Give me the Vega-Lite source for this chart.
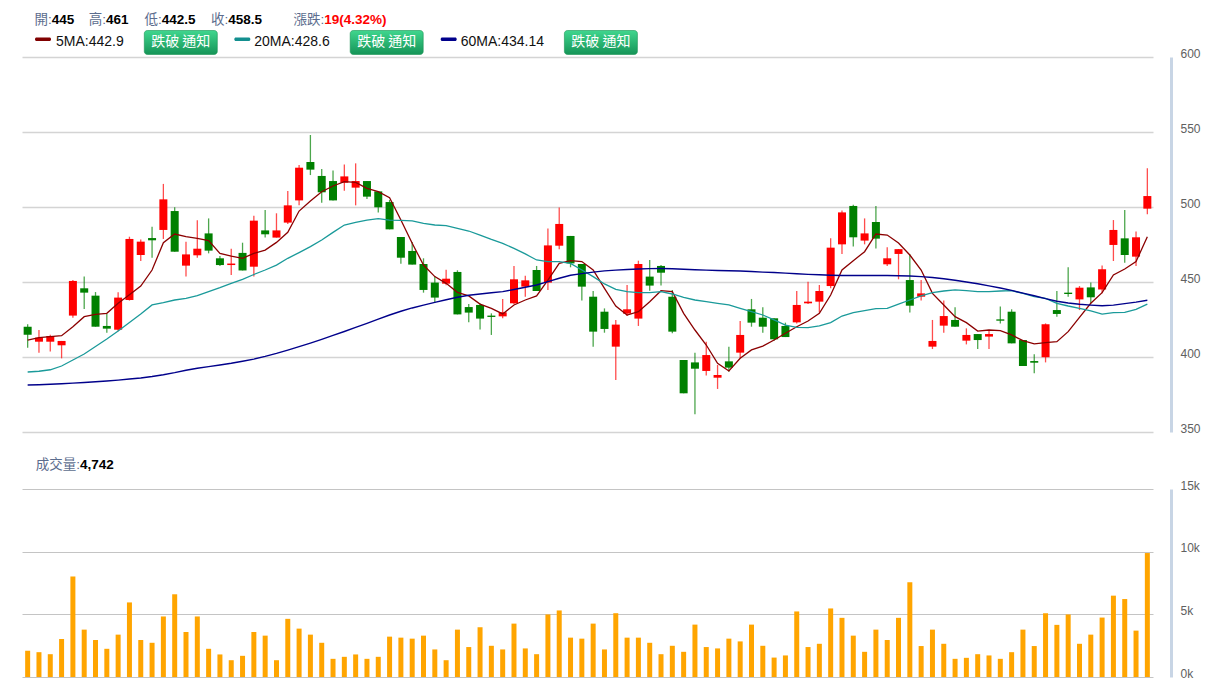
{
"$schema": "https://vega.github.io/schema/vega-lite/v6.json",
"background": "white",
"padding": {"left": 22, "top": 0, "right": 0, "bottom": 0},
"bounds": "flush",
"spacing": 0,
"config": {"view": {"stroke": null}, "font": "Liberation Sans"},
"datasets": {
"k": [
{"i":0,"o":420.2,"h":421.8,"l":406.2,"c":414.9,"v":2090,"m5":411.3,"m20":390.0,"m60":381.3},
{"i":1,"o":410.2,"h":418.0,"l":402.9,"c":412.9,"v":1980,"m5":412.9,"m20":390.5,"m60":381.5},
{"i":2,"o":410.2,"h":414.9,"l":403.6,"c":414.0,"v":1820,"m5":413.6,"m20":391.5,"m60":381.8},
{"i":3,"o":407.8,"h":410.7,"l":399.1,"c":410.7,"v":3030,"m5":414.2,"m20":394.0,"m60":382.2},
{"i":4,"o":427.6,"h":451.3,"l":426.2,"c":450.7,"v":8020,"m5":420.2,"m20":398.0,"m60":382.6},
{"i":5,"o":445.8,"h":453.6,"l":432.0,"c":442.9,"v":3780,"m5":426.9,"m20":402.0,"m60":383.0},
{"i":6,"o":440.9,"h":443.3,"l":420.2,"c":420.2,"v":2950,"m5":428.4,"m20":407.0,"m60":383.5},
{"i":7,"o":420.7,"h":428.7,"l":416.2,"c":418.9,"v":2250,"m5":429.1,"m20":412.0,"m60":384.0},
{"i":8,"o":418.2,"h":443.1,"l":417.1,"c":439.6,"v":3380,"m5":435.8,"m20":417.3,"m60":384.6},
{"i":9,"o":438.0,"h":480.2,"l":437.6,"c":478.7,"v":5950,"m5":441.5,"m20":423.0,"m60":385.3},
{"i":10,"o":468.0,"h":478.4,"l":464.0,"c":476.9,"v":2950,"m5":447.3,"m20":428.7,"m60":386.0},
{"i":11,"o":479.3,"h":486.9,"l":466.2,"c":477.8,"v":2730,"m5":458.0,"m20":434.7,"m60":387.0},
{"i":12,"o":484.7,"h":515.4,"l":478.7,"c":505.1,"v":4830,"m5":476.2,"m20":436.2,"m60":388.2},
{"i":13,"o":497.3,"h":499.8,"l":470.2,"c":470.2,"v":6600,"m5":482.0,"m20":438.0,"m60":389.6},
{"i":14,"o":460.9,"h":476.9,"l":453.6,"c":468.4,"v":3590,"m5":480.2,"m20":439.1,"m60":391.2},
{"i":15,"o":467.8,"h":491.1,"l":466.2,"c":472.2,"v":4830,"m5":479.1,"m20":440.9,"m60":392.5},
{"i":16,"o":482.4,"h":492.4,"l":469.1,"c":470.9,"v":2250,"m5":477.6,"m20":443.6,"m60":393.6},
{"i":17,"o":465.8,"h":467.3,"l":460.7,"c":461.3,"v":1800,"m5":469.1,"m20":446.2,"m60":394.7},
{"i":18,"o":461.3,"h":472.2,"l":454.7,"c":462.3,"v":1340,"m5":467.3,"m20":449.1,"m60":395.8},
{"i":19,"o":469.4,"h":476.2,"l":457.7,"c":457.7,"v":1690,"m5":465.8,"m20":451.8,"m60":397.2},
{"i":20,"o":460.2,"h":494.2,"l":453.6,"c":490.9,"v":3590,"m5":469.1,"m20":455.0,"m60":398.6},
{"i":21,"o":484.4,"h":498.0,"l":479.6,"c":481.8,"v":3300,"m5":471.3,"m20":458.0,"m60":400.4},
{"i":22,"o":479.6,"h":495.8,"l":479.6,"c":484.4,"v":1340,"m5":476.4,"m20":461.3,"m60":402.4},
{"i":23,"o":489.6,"h":510.7,"l":488.7,"c":501.1,"v":4640,"m5":483.1,"m20":465.8,"m60":404.6},
{"i":24,"o":504.4,"h":528.0,"l":501.1,"c":526.2,"v":3860,"m5":497.3,"m20":469.6,"m60":406.9},
{"i":25,"o":530.0,"h":548.0,"l":521.3,"c":524.9,"v":3380,"m5":504.0,"m20":473.6,"m60":409.3},
{"i":26,"o":520.7,"h":525.3,"l":502.9,"c":509.8,"v":2730,"m5":510.2,"m20":478.0,"m60":411.8},
{"i":27,"o":517.3,"h":524.4,"l":504.4,"c":504.4,"v":1450,"m5":514.0,"m20":483.1,"m60":414.4},
{"i":28,"o":516.2,"h":528.4,"l":510.9,"c":520.4,"v":1610,"m5":516.9,"m20":488.0,"m60":417.0},
{"i":29,"o":512.9,"h":529.1,"l":501.1,"c":517.3,"v":1800,"m5":516.4,"m20":489.8,"m60":419.7},
{"i":30,"o":517.3,"h":517.3,"l":505.3,"c":506.9,"v":1450,"m5":512.4,"m20":491.3,"m60":422.4},
{"i":31,"o":510.4,"h":510.4,"l":496.4,"c":499.8,"v":1610,"m5":510.2,"m20":492.2,"m60":425.2},
{"i":32,"o":503.3,"h":504.7,"l":485.1,"c":485.1,"v":3220,"m5":506.2,"m20":491.3,"m60":428.0},
{"i":33,"o":480.0,"h":480.0,"l":462.2,"c":466.2,"v":3140,"m5":491.3,"m20":491.1,"m60":430.5},
{"i":34,"o":470.7,"h":476.7,"l":461.6,"c":461.6,"v":3060,"m5":475.8,"m20":490.7,"m60":432.7},
{"i":35,"o":462.0,"h":465.8,"l":442.9,"c":444.7,"v":3300,"m5":461.3,"m20":489.1,"m60":434.6},
{"i":36,"o":449.6,"h":453.6,"l":436.4,"c":439.6,"v":2200,"m5":453.6,"m20":488.0,"m60":436.4},
{"i":37,"o":448.9,"h":458.2,"l":447.8,"c":452.2,"v":1340,"m5":449.1,"m20":487.6,"m60":438.2},
{"i":38,"o":456.7,"h":457.8,"l":428.4,"c":428.4,"v":3780,"m5":443.1,"m20":485.8,"m60":439.8},
{"i":39,"o":433.3,"h":435.3,"l":423.2,"c":429.6,"v":2390,"m5":440.7,"m20":484.0,"m60":441.2},
{"i":40,"o":434.7,"h":435.8,"l":418.4,"c":425.6,"v":3970,"m5":435.3,"m20":481.3,"m60":442.0},
{"i":41,"o":427.6,"h":429.1,"l":414.7,"c":426.7,"v":2490,"m5":432.4,"m20":478.4,"m60":442.8},
{"i":42,"o":427.1,"h":438.7,"l":425.8,"c":429.8,"v":2200,"m5":428.7,"m20":475.8,"m60":443.6},
{"i":43,"o":435.8,"h":460.7,"l":435.3,"c":451.8,"v":4260,"m5":434.7,"m20":472.4,"m60":445.0},
{"i":44,"o":446.9,"h":454.2,"l":440.2,"c":451.1,"v":2280,"m5":438.0,"m20":468.7,"m60":446.5},
{"i":45,"o":458.0,"h":460.7,"l":444.0,"c":444.0,"v":1820,"m5":440.7,"m20":464.7,"m60":448.0},
{"i":46,"o":449.6,"h":485.6,"l":444.7,"c":474.4,"v":4990,"m5":451.3,"m20":463.6,"m60":450.3},
{"i":47,"o":474.2,"h":499.6,"l":471.8,"c":488.7,"v":5310,"m5":462.4,"m20":463.6,"m60":452.5},
{"i":48,"o":480.7,"h":480.7,"l":459.8,"c":462.4,"v":3140,"m5":464.2,"m20":462.4,"m60":454.5},
{"i":49,"o":462.0,"h":462.0,"l":437.6,"c":446.9,"v":3060,"m5":463.6,"m20":458.0,"m60":455.6},
{"i":50,"o":440.2,"h":444.0,"l":406.9,"c":416.9,"v":4260,"m5":458.0,"m20":453.6,"m60":456.6},
{"i":51,"o":430.2,"h":432.4,"l":416.2,"c":418.7,"v":2200,"m5":445.8,"m20":448.7,"m60":457.4},
{"i":52,"o":406.9,"h":424.7,"l":384.7,"c":421.6,"v":5090,"m5":434.0,"m20":445.1,"m60":457.9},
{"i":53,"o":428.9,"h":448.0,"l":427.3,"c":431.8,"v":3140,"m5":428.0,"m20":443.6,"m60":458.3},
{"i":54,"o":425.6,"h":464.2,"l":420.7,"c":462.0,"v":3140,"m5":430.2,"m20":442.9,"m60":458.7},
{"i":55,"o":453.6,"h":464.7,"l":444.2,"c":447.6,"v":2730,"m5":436.9,"m20":442.9,"m60":458.9},
{"i":56,"o":460.7,"h":461.3,"l":447.6,"c":456.2,"v":1820,"m5":444.2,"m20":443.6,"m60":459.0},
{"i":57,"o":440.2,"h":444.7,"l":415.8,"c":416.9,"v":2490,"m5":443.6,"m20":442.0,"m60":458.8},
{"i":58,"o":398.0,"h":398.0,"l":375.8,"c":375.8,"v":2010,"m5":429.1,"m20":439.7,"m60":458.5},
{"i":59,"o":396.4,"h":402.9,"l":361.8,"c":392.2,"v":4180,"m5":418.0,"m20":438.0,"m60":458.2},
{"i":60,"o":390.7,"h":410.2,"l":387.6,"c":401.3,"v":2390,"m5":408.0,"m20":436.9,"m60":457.9},
{"i":61,"o":386.2,"h":394.7,"l":378.7,"c":388.0,"v":2280,"m5":395.8,"m20":435.8,"m60":457.7},
{"i":62,"o":397.1,"h":406.9,"l":390.2,"c":392.9,"v":3060,"m5":390.7,"m20":434.7,"m60":457.5},
{"i":63,"o":402.9,"h":424.0,"l":399.1,"c":414.7,"v":2840,"m5":399.1,"m20":432.4,"m60":457.3},
{"i":64,"o":431.8,"h":438.7,"l":420.2,"c":422.9,"v":4180,"m5":404.7,"m20":430.2,"m60":457.0},
{"i":65,"o":426.2,"h":433.1,"l":416.2,"c":420.2,"v":2490,"m5":407.3,"m20":428.0,"m60":456.6},
{"i":66,"o":425.8,"h":425.8,"l":410.9,"c":411.8,"v":1550,"m5":411.3,"m20":424.7,"m60":456.3},
{"i":67,"o":420.7,"h":422.9,"l":413.3,"c":413.3,"v":1720,"m5":415.8,"m20":421.3,"m60":455.9},
{"i":68,"o":423.1,"h":444.0,"l":422.4,"c":434.7,"v":5230,"m5":420.2,"m20":419.8,"m60":455.5},
{"i":69,"o":435.8,"h":450.2,"l":435.3,"c":436.9,"v":2390,"m5":424.0,"m20":419.6,"m60":455.1},
{"i":70,"o":436.9,"h":448.0,"l":429.6,"c":444.0,"v":2650,"m5":429.1,"m20":420.7,"m60":454.8},
{"i":71,"o":447.3,"h":479.1,"l":445.8,"c":472.9,"v":5470,"m5":441.3,"m20":422.9,"m60":454.5},
{"i":72,"o":475.1,"h":497.6,"l":468.7,"c":496.4,"v":4720,"m5":458.0,"m20":427.3,"m60":454.3},
{"i":73,"o":500.7,"h":501.5,"l":473.6,"c":479.8,"v":3300,"m5":464.2,"m20":429.6,"m60":454.3},
{"i":74,"o":477.6,"h":492.4,"l":475.1,"c":482.4,"v":2010,"m5":470.2,"m20":430.9,"m60":454.3},
{"i":75,"o":490.0,"h":500.7,"l":472.4,"c":478.9,"v":3780,"m5":482.0,"m20":432.2,"m60":454.3},
{"i":76,"o":461.8,"h":473.1,"l":460.7,"c":465.8,"v":2950,"m5":481.3,"m20":432.4,"m60":454.3},
{"i":77,"o":468.7,"h":472.0,"l":451.8,"c":471.9,"v":4720,"m5":476.0,"m20":435.3,"m60":454.2},
{"i":78,"o":451.3,"h":468.5,"l":429.6,"c":434.2,"v":7560,"m5":468.0,"m20":438.0,"m60":454.0},
{"i":79,"o":440.2,"h":451.3,"l":437.6,"c":442.4,"v":2470,"m5":458.0,"m20":440.7,"m60":453.6},
{"i":80,"o":406.9,"h":424.7,"l":405.3,"c":410.7,"v":3780,"m5":442.4,"m20":442.9,"m60":453.0},
{"i":81,"o":420.9,"h":437.6,"l":416.2,"c":427.3,"v":2650,"m5":434.7,"m20":444.0,"m60":452.2},
{"i":82,"o":424.7,"h":433.1,"l":420.2,"c":420.2,"v":1450,"m5":426.9,"m20":444.7,"m60":451.2},
{"i":83,"o":410.9,"h":419.1,"l":408.4,"c":414.7,"v":1530,"m5":422.9,"m20":444.2,"m60":450.0},
{"i":84,"o":415.3,"h":415.3,"l":405.3,"c":411.3,"v":1820,"m5":417.3,"m20":443.6,"m60":448.8},
{"i":85,"o":413.6,"h":418.0,"l":405.3,"c":415.3,"v":1720,"m5":418.0,"m20":443.6,"m60":447.4},
{"i":86,"o":425.1,"h":433.6,"l":422.4,"c":424.2,"v":1450,"m5":417.6,"m20":444.0,"m60":446.0},
{"i":87,"o":430.2,"h":431.8,"l":409.1,"c":409.1,"v":1980,"m5":414.7,"m20":444.2,"m60":444.4},
{"i":88,"o":411.3,"h":411.3,"l":394.0,"c":394.0,"v":3780,"m5":410.9,"m20":442.4,"m60":442.6},
{"i":89,"o":397.3,"h":401.8,"l":389.1,"c":396.2,"v":2470,"m5":408.7,"m20":440.2,"m60":440.8},
{"i":90,"o":399.8,"h":422.4,"l":396.4,"c":421.8,"v":5090,"m5":409.6,"m20":439.1,"m60":438.9},
{"i":91,"o":431.3,"h":444.0,"l":426.9,"c":428.7,"v":4160,"m5":410.2,"m20":435.8,"m60":437.2},
{"i":92,"o":442.9,"h":459.8,"l":440.2,"c":442.0,"v":4990,"m5":416.9,"m20":434.0,"m60":436.0},
{"i":93,"o":438.4,"h":447.3,"l":431.3,"c":446.2,"v":2650,"m5":426.4,"m20":432.4,"m60":435.2},
{"i":94,"o":446.4,"h":449.6,"l":435.8,"c":439.8,"v":3380,"m5":435.8,"m20":430.7,"m60":434.6},
{"i":95,"o":445.0,"h":461.0,"l":442.5,"c":458.5,"v":4742,"m5":442.9,"m20":428.6,"m60":434.14},
{"i":96,"o":474.7,"h":491.3,"l":464.0,"c":484.7,"v":6490,"m5":454.7,"m20":429.6,"m60":434.6},
{"i":97,"o":479.1,"h":498.0,"l":462.9,"c":468.0,"v":6220,"m5":458.7,"m20":429.8,"m60":435.6},
{"i":98,"o":466.9,"h":483.6,"l":460.7,"c":479.8,"v":3700,"m5":463.6,"m20":431.8,"m60":436.6},
{"i":99,"o":498.9,"h":525.8,"l":495.1,"c":507.3,"v":9890,"m5":480.2,"m20":435.3,"m60":437.8}
],
"hdr": [
{"slot":0,"line":2,"kind":"sw","ma":"5MA"},
{"slot":1,"line":1,"kind":"lab","t":"開:"},
{"slot":1,"line":1,"kind":"val","t":"445"},
{"slot":2,"line":2,"kind":"ma","t":"5MA:442.9"},
{"slot":3,"line":1,"kind":"lab","t":"高:"},
{"slot":3,"line":1,"kind":"val","t":"461"},
{"slot":4,"line":1,"kind":"lab","t":"低:"},
{"slot":4,"line":1,"kind":"val","t":"442.5"},
{"slot":5,"line":2,"kind":"btn","t":"跌破 通知"},
{"slot":6,"line":1,"kind":"lab","t":"收:"},
{"slot":6,"line":1,"kind":"val","t":"458.5"},
{"slot":7,"line":2,"kind":"sw","ma":"20MA"},
{"slot":8,"line":2,"kind":"ma","t":"20MA:428.6"},
{"slot":9,"line":1,"kind":"lab","t":"漲跌:"},
{"slot":9,"line":1,"kind":"valr","t":"19(4.32%)"},
{"slot":10,"line":2,"kind":"btn","t":"跌破 通知"},
{"slot":11,"line":2,"kind":"sw","ma":"60MA"},
{"slot":12,"line":2,"kind":"ma","t":"60MA:434.14"},
{"slot":13,"line":2,"kind":"btn","t":"跌破 通知"}
],
"vh": [
{"slot":0,"line":1,"kind":"lab","t":"成交量:"},
{"slot":0,"line":1,"kind":"val","t":"4,742"}
]
},
"vconcat": [
{
"width": 1131, "height": 57,
"data": {"name": "hdr"},
"encoding": {
"x": {"field": "slot", "type": "quantitative", "axis": null, "scale": {"type": "linear", "domain": [0,1,2,3,4,5,6,7,8,9,10,11,12,13], "range": [13,29.7,34,84,139.7,158.8,206.3,212.3,232.3,302.3,364.7,418.7,438.7,578.9], "zero": false, "nice": false}},
"y": {"field": "line", "type": "quantitative", "axis": null, "scale": {"domain": [1,2], "range": [20,42], "zero": false, "nice": false}}
},
"layer": [
{"transform": [{"filter": "datum.kind == 'btn'"}],
 "mark": {"type": "rect", "xOffset": -36.5, "x2Offset": 36.5, "yOffset": -11.5, "y2Offset": 12.5, "cornerRadius": 3, "stroke": "#179452", "strokeWidth": 0.6,
  "fill": {"gradient": "linear", "x1": 0, "y1": 0, "x2": 0, "y2": 1, "stops": [{"offset": 0, "color": "#40D68E"}, {"offset": 1, "color": "#159457"}]}},
 "encoding": {"x2": {"field": "slot"}, "y2": {"field": "line"}}},
{"transform": [{"filter": "datum.kind == 'btn'"}],
 "mark": {"type": "text", "color": "white", "fontSize": 14, "font": "Noto Sans CJK TC", "align": "center", "baseline": "middle"},
 "encoding": {"text": {"field": "t"}}},
{"transform": [{"filter": "datum.kind == 'sw'"}],
 "mark": {"type": "rect", "x2Offset": 16, "yOffset": -4.5, "y2Offset": -1, "cornerRadius": 1.5},
 "encoding": {"x2": {"field": "slot"}, "y2": {"field": "line"},
  "color": {"field": "ma", "type": "nominal", "legend": null, "scale": {"domain": ["5MA","20MA","60MA"], "range": ["#800000","#138F8F","#00008B"]}}}},
{"transform": [{"filter": "datum.kind == 'lab'"}],
 "mark": {"type": "text", "align": "right", "baseline": "middle", "color": "#5C6D8E", "fontSize": 13.5, "font": "Liberation Sans, Noto Sans CJK TC"},
 "encoding": {"text": {"field": "t"}}},
{"transform": [{"filter": "datum.kind == 'val'"}],
 "mark": {"type": "text", "align": "left", "baseline": "middle", "color": "#000000", "fontWeight": "bold", "fontSize": 13.5},
 "encoding": {"text": {"field": "t"}}},
{"transform": [{"filter": "datum.kind == 'valr'"}],
 "mark": {"type": "text", "align": "left", "baseline": "middle", "color": "#FF0000", "fontWeight": "bold", "fontSize": 13.5},
 "encoding": {"text": {"field": "t"}}},
{"transform": [{"filter": "datum.kind == 'ma'"}],
 "mark": {"type": "text", "align": "left", "baseline": "middle", "color": "#111111", "fontSize": 14},
 "encoding": {"text": {"field": "t"}}}
]
},
{
"width": 1131, "height": 375,
"data": {"name": "k"},
"encoding": {"x": {"field": "i", "type": "ordinal", "axis": null, "scale": {"paddingInner": 0, "paddingOuter": 0}}},
"layer": [
{"mark": {"type": "rule", "strokeWidth": 1.3, "opacity": 0.7},
 "encoding": {
  "y": {"field": "l", "type": "quantitative", "scale": {"domain": [350,600], "zero": false, "nice": false},
   "axis": {"orient": "right", "title": null, "values": [350,400,450,500,550,600], "grid": true, "gridColor": "#D4D4D4", "gridWidth": 1.5, "domainColor": "#C8D5E5", "domainWidth": 3, "offset": 18, "ticks": false, "labelPadding": 9, "labelColor": "#606060", "labelFontSize": 12, "labelOffset": -4, "labelOverlap": false}},
  "y2": {"field": "h"},
  "color": {"condition": {"test": "datum.c >= datum.o", "value": "#FF0000"}, "value": "#008000"}}},
{"mark": {"type": "bar", "width": 8},
 "encoding": {
  "y": {"field": "o", "type": "quantitative"},
  "y2": {"field": "c"},
  "color": {"condition": {"test": "datum.c >= datum.o", "value": "#FF0000"}, "value": "#008000"}}},
{"mark": {"type": "line", "color": "#8B0000", "strokeWidth": 1.3},
 "encoding": {"y": {"field": "m5", "type": "quantitative"}}},
{"mark": {"type": "line", "color": "#1A9A9A", "strokeWidth": 1.3},
 "encoding": {"y": {"field": "m20", "type": "quantitative"}}},
{"mark": {"type": "line", "color": "#00008B", "strokeWidth": 1.4},
 "encoding": {"y": {"field": "m60", "type": "quantitative"}}}
]
},
{
"width": 1131, "height": 57,
"data": {"name": "vh"},
"encoding": {
"x": {"field": "slot", "type": "quantitative", "axis": null, "scale": {"domain": [0,1], "range": [58,100], "zero": false, "nice": false}},
"y": {"field": "line", "type": "quantitative", "axis": null, "scale": {"domain": [1,2], "range": [33,55], "zero": false, "nice": false}}
},
"layer": [
{"transform": [{"filter": "datum.kind == 'lab'"}],
 "mark": {"type": "text", "align": "right", "baseline": "middle", "color": "#5C6D8E", "fontSize": 13.5, "font": "Liberation Sans, Noto Sans CJK TC"},
 "encoding": {"text": {"field": "t"}}},
{"transform": [{"filter": "datum.kind == 'val'"}],
 "mark": {"type": "text", "align": "left", "baseline": "middle", "color": "#000000", "fontWeight": "bold", "fontSize": 13.5},
 "encoding": {"text": {"field": "t"}}}
]
},
{
"width": 1131, "height": 188,
"data": {"name": "k"},
"mark": {"type": "bar", "width": 5, "color": "#FFA500"},
"encoding": {
"x": {"field": "i", "type": "ordinal", "axis": null, "scale": {"paddingInner": 0, "paddingOuter": 0}},
"y": {"field": "v", "type": "quantitative", "scale": {"domain": [0,15000], "nice": false},
 "axis": {"orient": "right", "title": null, "values": [0,5000,10000,15000], "labelExpr": "datum.value / 1000 + 'k'", "grid": true, "gridColor": "#C4C4C4", "gridWidth": 1, "domainColor": "#C8D5E5", "domainWidth": 3, "offset": 18, "ticks": false, "labelPadding": 9, "labelColor": "#606060", "labelFontSize": 12, "labelOffset": -4, "labelOverlap": false}}
}
}
]
}
